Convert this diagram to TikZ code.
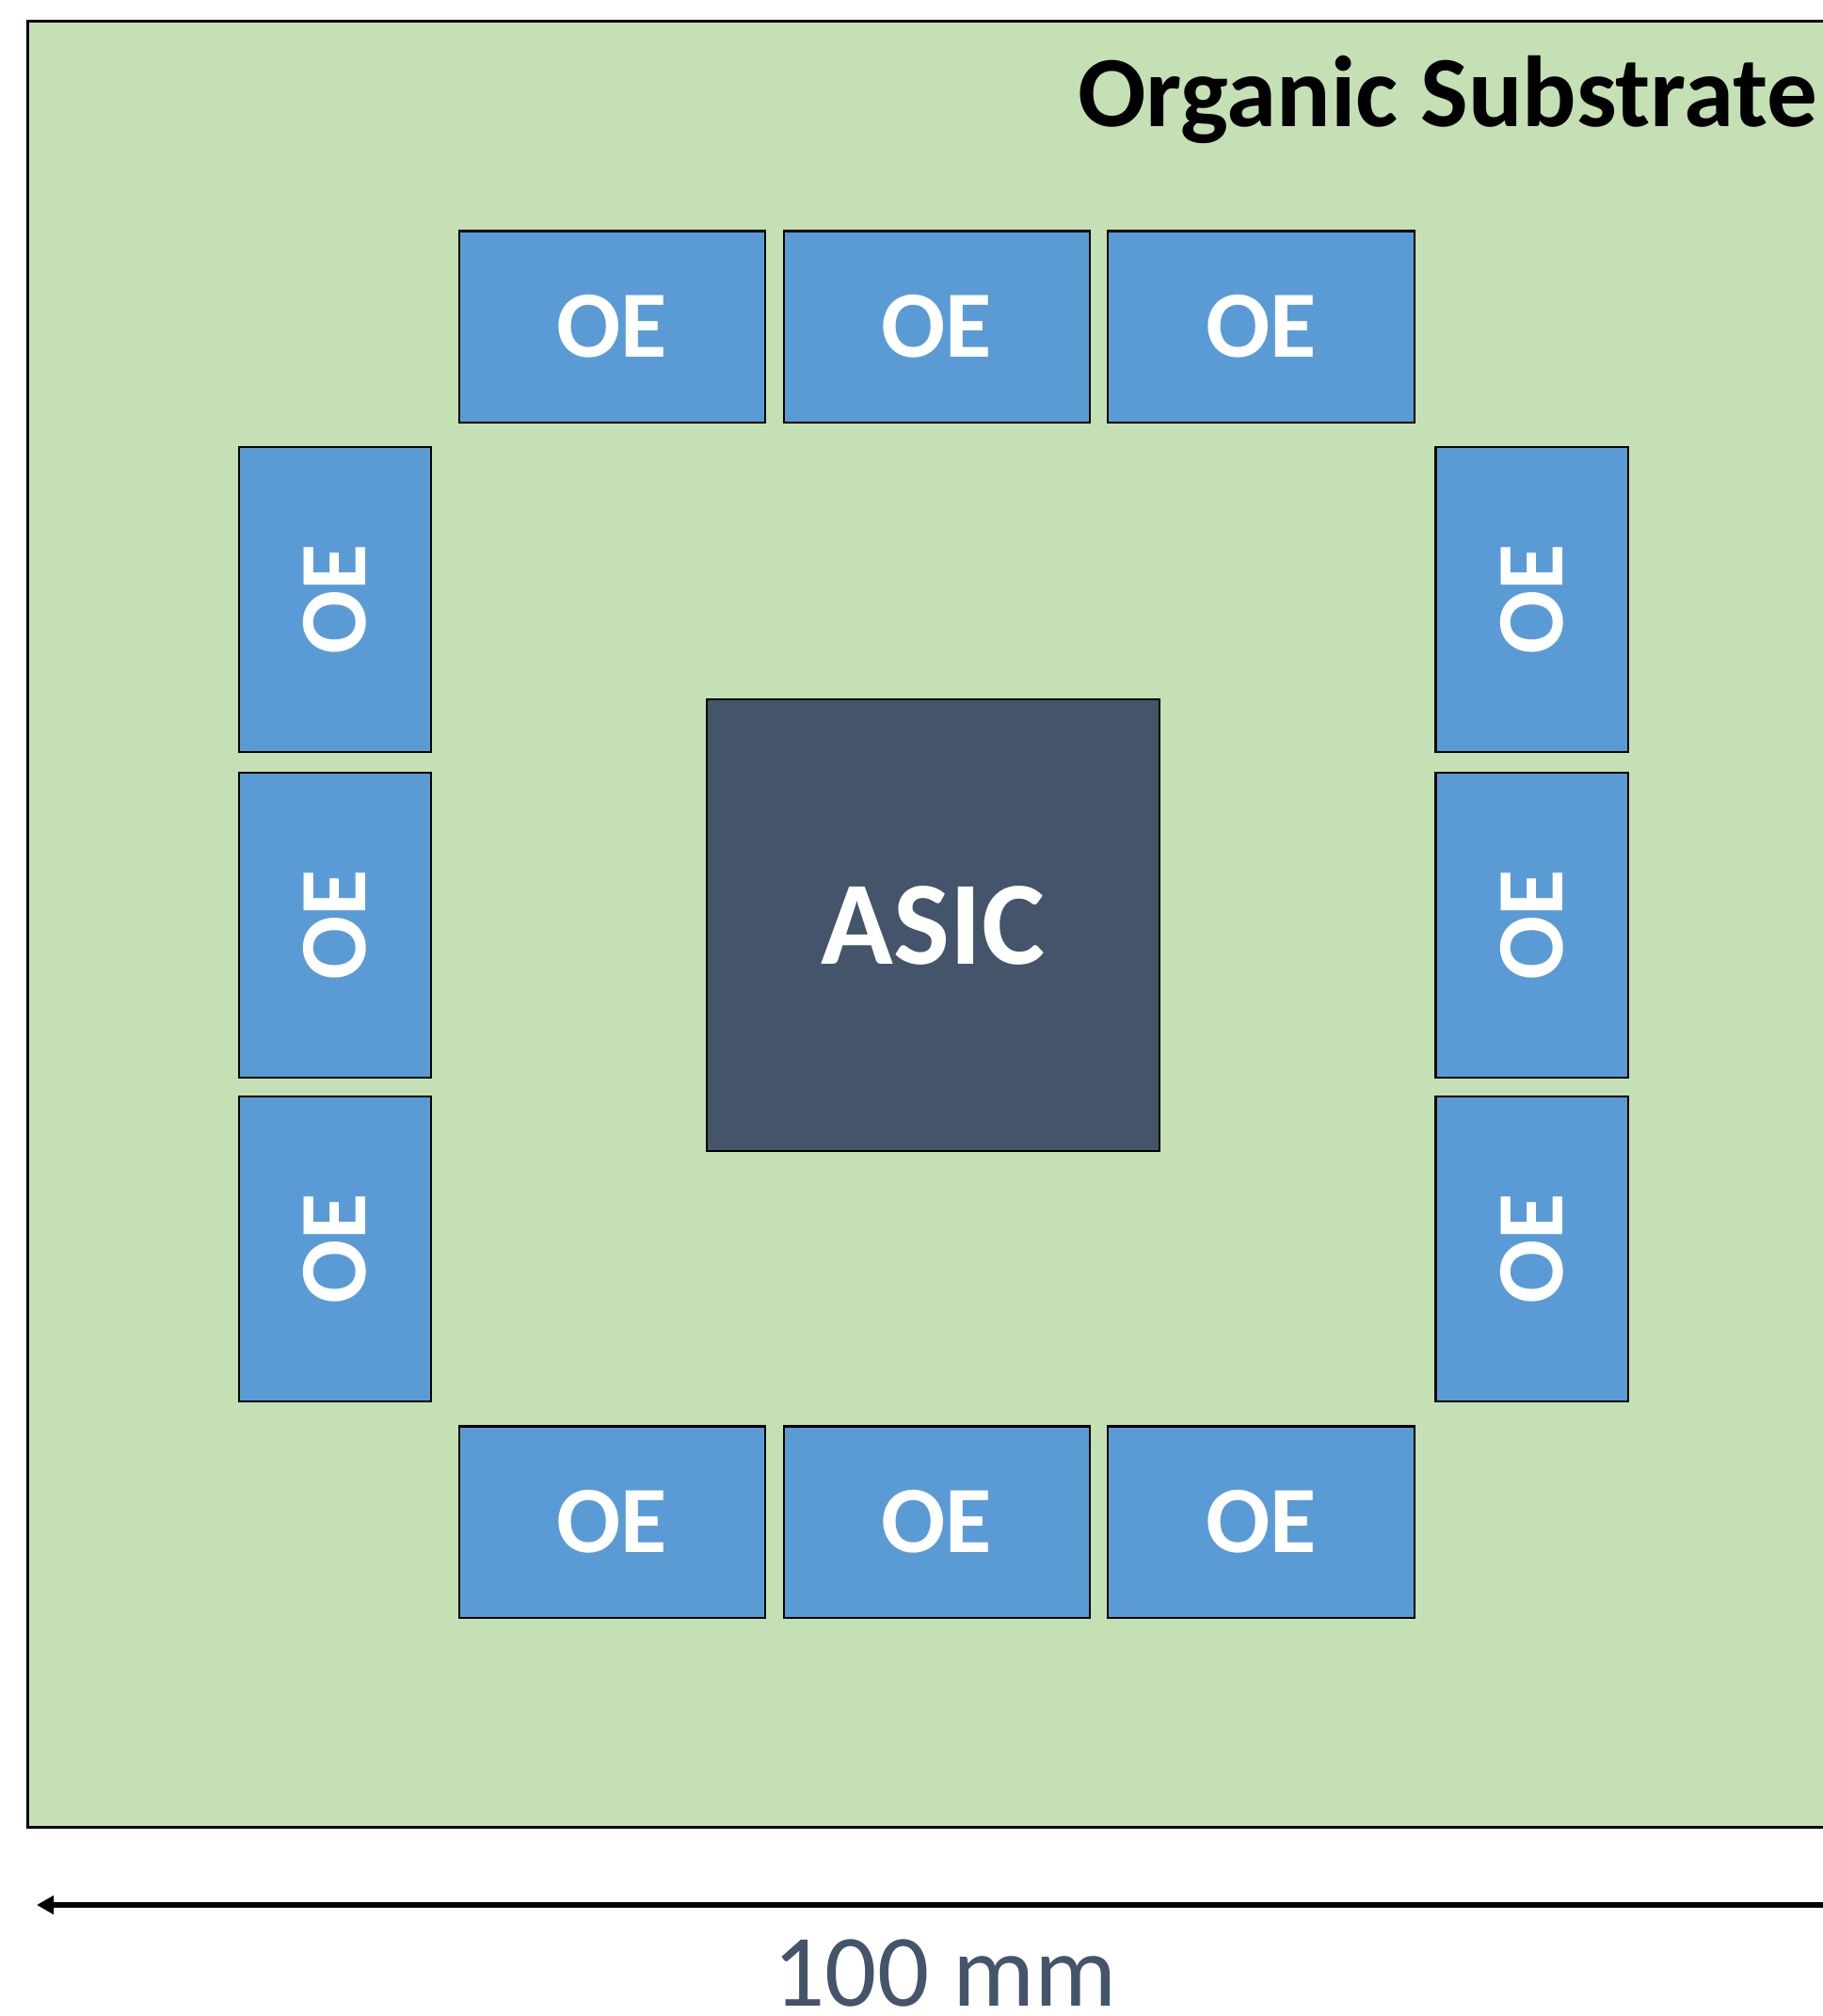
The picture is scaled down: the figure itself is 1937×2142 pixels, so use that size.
\documentclass[tikz,border=0pt]{standalone}
\usepackage{fontspec}
\setmainfont{Carlito}
\usetikzlibrary{arrows.meta}
\definecolor{subgreen}{HTML}{C5E0B4}
\definecolor{oeblue}{HTML}{5B9BD5}
\definecolor{asicslate}{HTML}{44546A}
\begin{document}
\begin{tikzpicture}[x=0.01cm,y=-0.01cm,
  substrate/.style={draw=black, line width=0.7pt, fill=subgreen, minimum width=19.48cm, minimum height=19.18cm, inner sep=0pt},
  oebox/.style={draw=black, line width=0.6pt, fill=oeblue, minimum width=3.25cm, minimum height=2.03cm, inner sep=0pt, text=white, font=\fontsize{28.7}{30}\selectfont\bfseries},
  oevert/.style={oebox, rotate=90, minimum height=2.04cm, minimum width=3.24cm},
  asicbox/.style={draw=black, line width=0.6pt, fill=asicslate, minimum width=4.81cm, minimum height=4.80cm, inner sep=0pt, text=white, font=\fontsize{36}{38}\selectfont\bfseries},
  titletext/.style={inner sep=0pt, font=\fontsize{30.5}{32}\selectfont\bfseries, text=black},
  dimtext/.style={inner sep=0pt, font=\fontsize{31}{33}\selectfont, text=asicslate},
  dimarrow/.style={line width=1.7pt, -{Triangle[length=0.18cm,width=0.19cm]}}
]
\useasboundingbox (0,0) rectangle (1937,2142);
\clip (0,0) rectangle (1937,2142);
\node[substrate] (sub) at (1004,982) {};
\node[titletext, anchor=base east] (title) at (1932,134) {Organic Substrate};
% top row
\node[oebox] (t1) at (650.5,347) {OE};
\node[oebox] (t2) at (995.5,347) {OE};
\node[oebox] (t3) at (1340,347) {OE};
% bottom row
\node[oebox] (b1) at (650.5,1617) {OE};
\node[oebox] (b2) at (995.5,1617) {OE};
\node[oebox] (b3) at (1340,1617) {OE};
% left column
\node[oevert] (l1) at (356,637) {OE};
\node[oevert] (l2) at (356,983) {OE};
\node[oevert] (l3) at (356,1327) {OE};
% right column
\node[oevert] (r1) at (1627.5,637) {OE};
\node[oevert] (r2) at (1627.5,983) {OE};
\node[oevert] (r3) at (1627.5,1327) {OE};
% ASIC
\node[asicbox] (asic) at (991.5,983) {ASIC};
% dimension arrow
\coordinate (arrR) at (1978,2024);
\coordinate (arrL) at (39,2024);
\draw[dimarrow] (arrR) -- (arrL);
\node[dimtext, anchor=base] (dim) at (1004,2131) {100 mm};
\end{tikzpicture}
\end{document}
